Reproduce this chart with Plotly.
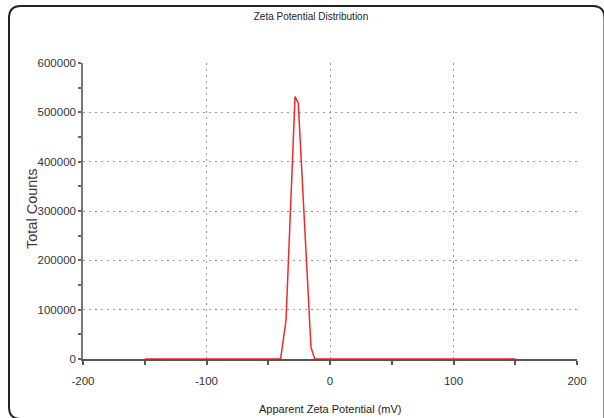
import plotly.graph_objects as go

# Data
potential_mv = [-150, -40, -35.6, -28.3, -25.7, -15.4, -12.4, 150]
total_counts = [0, 0, 79000, 532000, 519000, 24000, 0, 0]

x_tickvals = [-200, -100, 0, 100, 200]
y_tickvals = [0, 100000, 200000, 300000, 400000, 500000, 600000]

W, H = 604, 418
L, R, T, B = 83, 27, 63, 59
PW, PH = W - L - R, H - T - B

SANS = "Liberation Sans, Arial, sans-serif"


def px(x):
    return (x - L) / PW


def py(y):
    return (H - B - y) / PH


fig = go.Figure()
fig.add_trace(go.Scatter(
    x=potential_mv, y=total_counts, mode="lines",
    line=dict(color="#f0282d", width=1.5), showlegend=False,
    hoverinfo="skip",
))

# Rounded frame around the whole chart
r = 12
xl, xr, yt, yb = 9, 604.5, 6, 419
path = (
    f"M {px(xl)},{py(yb - r)} L {px(xl)},{py(yt + r)} "
    f"Q {px(xl)},{py(yt)} {px(xl + r)},{py(yt)} "
    f"L {px(xr - r)},{py(yt)} Q {px(xr)},{py(yt)} {px(xr)},{py(yt + r)} "
    f"L {px(xr)},{py(yb + 5)} "
    f"M {px(xl)},{py(yb - r)} Q {px(xl)},{py(yb)} {px(xl + r)},{py(yb)}"
)
fig.add_shape(type="path", path=path, xref="paper", yref="paper",
              line=dict(color="#222222", width=2), layer="above")

fig.update_layout(
    width=W, height=H,
    margin=dict(l=L, r=R, t=T, b=B),
    paper_bgcolor="white", plot_bgcolor="white",
    title=dict(text="Zeta Potential Distribution", x=311 / W, xanchor="center",
               y=1 - 16 / H, yanchor="middle",
               font=dict(family=SANS, size=10, color="#222222")),
    xaxis=dict(
        range=[-200, 200], tickvals=x_tickvals,
        ticktext=[str(v) for v in x_tickvals],
        showline=True, linecolor="#555555", linewidth=2,
        ticks="outside", ticklen=4, tickcolor="#555555", tickwidth=1.5,
        minor=dict(dtick=50, tick0=-200, ticks="outside", ticklen=4,
                   tickcolor="#555555", tickwidth=1.5, showgrid=False),
        showgrid=True, gridcolor="#9a9a9a", gridwidth=1, griddash="2px,4px",
        zeroline=False, ticklabelstandoff=6,
        tickfont=dict(family=SANS, size=11.5, color="#333333"),
    ),
    yaxis=dict(
        range=[0, 600000], tickvals=y_tickvals,
        ticktext=[str(v) for v in y_tickvals],
        showline=True, linecolor="#777777", linewidth=1.5,
        ticks="outside", ticklen=3, tickcolor="#666666", tickwidth=1.5,
        minor=dict(dtick=50000, tick0=0, ticks="outside", ticklen=3,
                   tickcolor="#666666", tickwidth=1.5, showgrid=False),
        showgrid=True, gridcolor="#9a9a9a", gridwidth=1, griddash="2px,4px",
        zeroline=False, ticklabelstandoff=0,
        tickfont=dict(family=SANS, size=11.5, color="#333333"),
    ),
    annotations=[
        dict(text="Total Counts", xref="paper", yref="paper",
             x=px(32), y=py(209), textangle=-90, showarrow=False,
             xanchor="center", yanchor="middle",
             font=dict(family=SANS, size=14.5, color="#3a3a3a")),
        dict(text="Apparent Zeta Potential (mV)", xref="paper", yref="paper",
             x=px(330), y=py(409), showarrow=False,
             xanchor="center", yanchor="middle",
             font=dict(family=SANS, size=11, color="#222222")),
    ],
)

fig.write_html("out.html")
